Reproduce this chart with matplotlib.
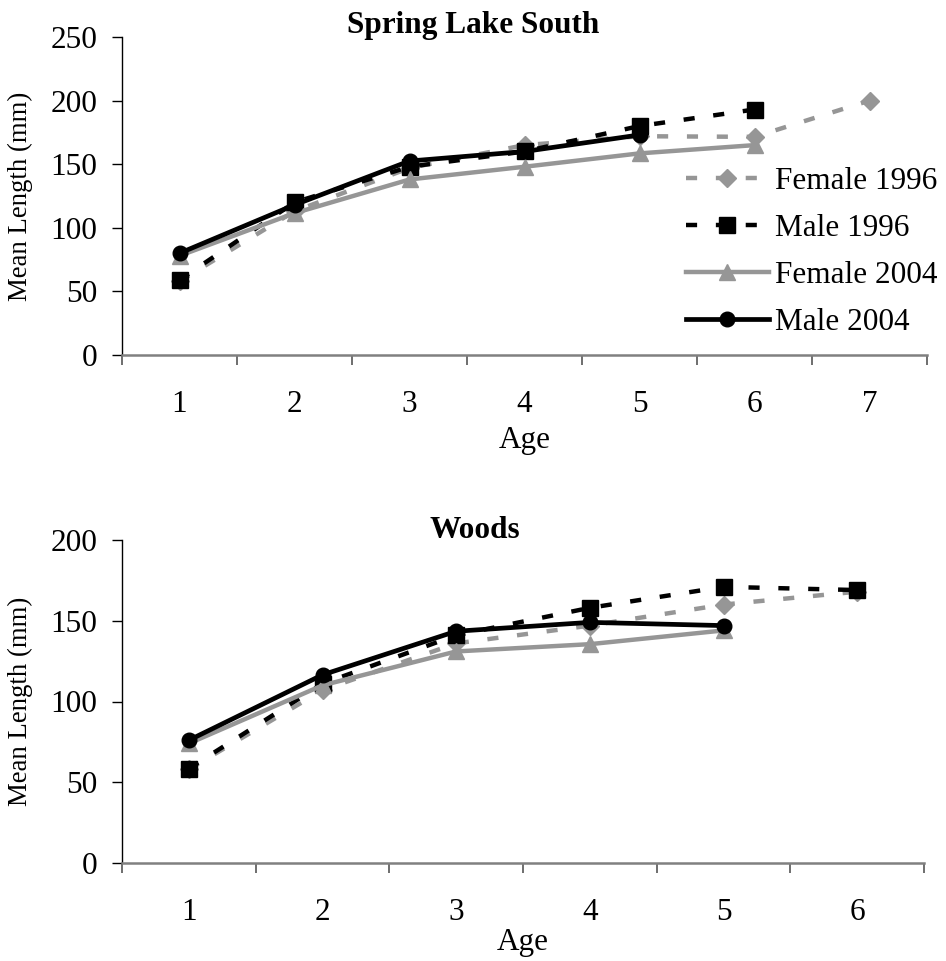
import matplotlib
matplotlib.use("Agg")
import matplotlib.pyplot as plt
from matplotlib.ticker import FixedLocator, NullFormatter

plt.rcParams['font.family'] = ['Liberation Serif', 'DejaVu Serif']
plt.rcParams['lines.scale_dashes'] = False

# Spring Lake South (ages 1-7)
sls_female_1996 = [58, 113, 147, 165, 172, 171.5, 200]
sls_male_1996 = [59, 120, 148, 160, 180, 193]
sls_female_2004 = [78, 111.5, 138, 148, 158.5, 165]
sls_male_2004 = [80, 118, 152.5, 160, 173]

# Woods (ages 1-6)
woods_female_1996 = [58, 107, 136, 147, 160, 168]
woods_male_1996 = [58.5, 111, 141, 158, 171, 169]
woods_female_2004 = [74, 110, 131, 135.5, 144]
woods_male_2004 = [76, 116.5, 143.5, 149, 147]

series_labels = ["Female 1996", "Male 1996", "Female 2004", "Male 2004"]

GREY = "#969696"
DASH = (0, (8, 13.5))
styles = [
    dict(color=GREY, linestyle=DASH, marker="D", markersize=9.5, lw=3.2),
    dict(color="black", linestyle=DASH, marker="s", markersize=11, lw=3.2),
    dict(color=GREY, linestyle="-", marker="^", markersize=11, lw=3.2),
    dict(color="black", linestyle="-", marker="o", markersize=10.5, lw=3.4),
]

FS = 22.5

fig = plt.figure(figsize=(9.46, 9.61), dpi=100)
W, H = 946, 961


def make_axes(l, r, t, b):
    return fig.add_axes([l / W, 1 - b / H, (r - l) / W, (b - t) / H])


def style_axes(ax, n_ages, ymax, age_label_y):
    ax.set_xlim(0.5, n_ages + 0.5)
    ax.set_ylim(0, ymax)
    ax.set_yticks(range(0, ymax + 1, 50))
    ax.xaxis.set_major_locator(FixedLocator(range(1, n_ages + 1)))
    ax.xaxis.set_minor_locator(FixedLocator([k + 0.5 for k in range(0, n_ages + 1)]))
    ax.xaxis.set_minor_formatter(NullFormatter())
    ax.tick_params(axis="x", which="major", length=0, pad=25.5, labelsize=FS)
    ax.tick_params(axis="x", which="minor", length=7, width=1.2, color="#555555",
                   direction="out")
    ax.tick_params(axis="y", which="major", length=7, width=1.0, pad=11,
                   labelsize=FS, direction="out")
    for s in ("top", "right"):
        ax.spines[s].set_visible(False)
    ax.spines["left"].set_linewidth(1.0)
    ax.spines["bottom"].set_color("#808080")
    ax.spines["bottom"].set_linewidth(1.8)
    ax.set_ylabel("Mean Length (mm)", fontsize=19.3)
    ax.yaxis.set_label_coords(-0.111, 0.5)
    ax.set_xlabel("Age", fontsize=FS)
    ax.xaxis.set_label_coords(0.5, age_label_y)


# Top panel
ax1 = make_axes(122, 927, 37, 355)
for vals, st, lab in zip([sls_female_1996, sls_male_1996, sls_female_2004, sls_male_2004],
                         styles, series_labels):
    ax1.plot(range(1, len(vals) + 1), vals, label=lab, clip_on=False, **st)
style_axes(ax1, 7, 250, -0.222)
ax1.legend(loc="upper left", bbox_to_anchor=(686 / W, 1 - 167 / H),
           bbox_transform=fig.transFigure, frameon=False, fontsize=FS,
           handlelength=2.65, handletextpad=0.2, labelspacing=0.58,
           borderaxespad=0, borderpad=0)

# Bottom panel
ax2 = make_axes(122, 924, 540, 863)
for vals, st, lab in zip([woods_female_1996, woods_male_1996, woods_female_2004, woods_male_2004],
                         styles, series_labels):
    ax2.plot(range(1, len(vals) + 1), vals, label=lab, clip_on=False, **st)
style_axes(ax2, 6, 200, -0.201)

fig.text(0.5, 1 - 26 / H, "Spring Lake South", ha="center", va="center",
         fontsize=FS, fontweight="bold")
fig.text(475 / W, 1 - 531 / H, "Woods", ha="center", va="center",
         fontsize=FS, fontweight="bold")

fig.savefig("out.png", dpi=100)
